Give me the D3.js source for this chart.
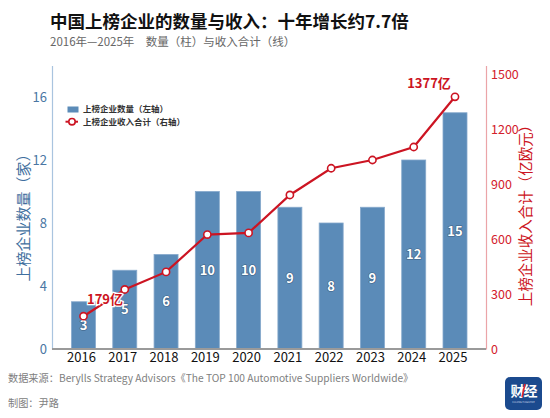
<!DOCTYPE html>
<html>
<head>
<meta charset="utf-8">
<script src="https://cdn.jsdelivr.net/npm/d3@7"></script>
<style>
  body { margin: 0; background: #fff; font-family: "Noto Sans CJK SC", "Noto Sans", sans-serif; }
  svg text { font-family: "Noto Sans CJK SC", "Noto Sans", sans-serif; }
</style>
</head>
<body>
<svg id="chart"></svg>
<script>
let width = 550;
let height = 418;

// data
let years = ['2016', '2017', '2018', '2019', '2020', '2021', '2022', '2023', '2024', '2025'];
let counts = [3, 5, 6, 10, 10, 9, 8, 9, 12, 15];
let revenue = [179, 325, 421, 625, 634, 841, 987, 1032, 1103, 1377];
let leftTicks = [0, 4, 8, 12, 16];
let rightTicks = [0, 300, 600, 900, 1200, 1500];

let blue = '#5b8bb8';
let red = '#cc1422';

let svg = d3.select('#chart')
    .attr('width', width)
    .attr('height', height);

let padding = {'left': 52, 'right': 486, 'top': 65.5, 'bottom': 349};

// title
svg.append('text')
    .attr('x', 50).attr('y', 28)
    .attr('font-size', '17.5px')
    .attr('font-weight', 'bold')
    .attr('fill', '#111')
    .text('中国上榜企业的数量与收入：十年增长约7.7倍');
svg.append('text')
    .attr('x', 50).attr('y', 46)
    .attr('font-size', '11.5px')
    .attr('fill', '#666')
    .text('2016年—2025年　数量（柱）与收入合计（线）');

// scales
let x = d3.scalePoint()
    .domain(years)
    .range([83.5, 455]);
let yL = d3.scaleLinear()
    .domain([0, 18])
    .range([padding.bottom, padding.top]);
let yR = d3.scaleLinear()
    .domain([0, 1548])
    .range([padding.bottom, padding.top]);

let barW = 24;

// bars
svg.append('g')
    .selectAll('rect')
    .data(counts)
    .enter().append('rect')
    .attr('x', (d, i) => x(years[i]) - barW / 2)
    .attr('y', d => yL(d))
    .attr('width', barW)
    .attr('height', d => yL(0) - yL(d))
    .attr('fill', blue)
    .attr('stroke', '#86a9cc')
    .attr('stroke-width', 0.8);

// bar labels
svg.append('g')
    .selectAll('text')
    .data(counts)
    .enter().append('text')
    .attr('x', (d, i) => x(years[i]))
    .attr('y', d => (yL(d) + yL(0)) / 2)
    .attr('dy', '0.36em')
    .attr('text-anchor', 'middle')
    .attr('font-size', '13px')
    .attr('font-weight', 'bold')
    .attr('fill', '#fff')
    .attr('stroke', '#3d5f82')
    .attr('stroke-width', 1.2)
    .attr('paint-order', 'stroke')
    .text(d => d);

// left axis
let axisL = d3.axisLeft(yL).tickValues(leftTicks).tickSize(0).tickPadding(5);
let gL = svg.append('g')
    .attr('transform', `translate(${padding.left}, 0)`)
    .call(axisL);
gL.select('.domain').attr('stroke', '#a9c4df').attr('stroke-width', 1.2);
gL.selectAll('text').attr('fill', '#4a76a3').attr('font-size', '13px')
    .attr('font-family', '"Open Sans", sans-serif');

// right axis
let axisR = d3.axisRight(yR).tickValues(rightTicks).tickSize(0).tickPadding(5)
    .tickFormat(d3.format('d'));
let gR = svg.append('g')
    .attr('transform', `translate(${padding.right}, 0)`)
    .call(axisR);
gR.select('.domain').attr('stroke', '#eba4a8').attr('stroke-width', 1.2);
gR.selectAll('text').attr('fill', '#d3202c').attr('font-size', '12.5px')
    .attr('font-family', '"Open Sans", sans-serif');

// bottom axis
svg.append('line')
    .attr('x1', padding.left).attr('x2', padding.right)
    .attr('y1', padding.bottom).attr('y2', padding.bottom)
    .attr('stroke', '#9a9a9a')
    .attr('stroke-width', 2);
svg.append('g')
    .selectAll('text')
    .data(years)
    .enter().append('text')
    .attr('x', d => x(d) - 2)
    .attr('y', 362)
    .attr('text-anchor', 'middle')
    .attr('font-size', '13px')
    .attr('fill', '#111')
    .attr('font-family', '"Open Sans", sans-serif')
    .text(d => d);

// axis titles
svg.append('text')
    .attr('transform', `translate(24, 214) rotate(-90)`)
    .attr('text-anchor', 'middle')
    .attr('dy', '0.35em')
    .attr('font-size', '15px')
    .attr('fill', '#3f6f9e')
    .text('上榜企业数量（家）');
svg.append('text')
    .attr('transform', `translate(526, 212) rotate(-90)`)
    .attr('text-anchor', 'middle')
    .attr('dy', '0.35em')
    .attr('font-size', '14.5px')
    .attr('fill', '#cc1422')
    .text('上榜企业收入合计（亿欧元）');

// line
let line = d3.line()
    .x((d, i) => x(years[i]))
    .y(d => yR(d));
svg.append('path')
    .datum(revenue)
    .attr('d', line)
    .attr('fill', 'none')
    .attr('stroke', red)
    .attr('stroke-width', 2.2);
svg.append('g')
    .selectAll('circle')
    .data(revenue)
    .enter().append('circle')
    .attr('cx', (d, i) => x(years[i]))
    .attr('cy', d => yR(d))
    .attr('r', 3.6)
    .attr('fill', '#fff')
    .attr('stroke', red)
    .attr('stroke-width', 1.6);

// annotations
svg.append('text')
    .attr('x', 105).attr('y', 299).attr('dy', '0.35em')
    .attr('text-anchor', 'middle')
    .attr('font-size', '13px').attr('font-weight', 'bold')
    .attr('fill', red)
    .attr('stroke', '#fff').attr('stroke-width', 2.5).attr('paint-order', 'stroke')
    .text(revenue[0] + '亿');
svg.append('text')
    .attr('x', 429).attr('y', 83).attr('dy', '0.35em')
    .attr('text-anchor', 'middle')
    .attr('font-size', '13px').attr('font-weight', 'bold')
    .attr('fill', red)
    .attr('stroke', '#fff').attr('stroke-width', 2.5).attr('paint-order', 'stroke')
    .text(revenue[9] + '亿');

// legend
let lg = svg.append('g');
lg.append('rect')
    .attr('x', 67.5).attr('y', 106.5).attr('width', 11).attr('height', 6)
    .attr('fill', blue);
lg.append('text')
    .attr('x', 83).attr('y', 109.5).attr('dy', '0.35em')
    .attr('font-size', '8.5px').attr('font-weight', 'bold').attr('fill', '#333')
    .text('上榜企业数量（左轴）');
lg.append('line')
    .attr('x1', 65.5).attr('x2', 78).attr('y1', 121.7).attr('y2', 121.7)
    .attr('stroke', red).attr('stroke-width', 2);
lg.append('circle')
    .attr('cx', 72).attr('cy', 121.7).attr('r', 3.2)
    .attr('fill', '#fff').attr('stroke', red).attr('stroke-width', 1.6);
lg.append('text')
    .attr('x', 83).attr('y', 121.7).attr('dy', '0.35em')
    .attr('font-size', '8.5px').attr('font-weight', 'bold').attr('fill', '#333')
    .text('上榜企业收入合计（右轴）');

// footer
svg.append('text')
    .attr('x', 8).attr('y', 378).attr('dy', '0.35em')
    .attr('font-size', '10.2px').attr('fill', '#808080')
    .text('数据来源：Berylls Strategy Advisors《The TOP 100 Automotive Suppliers Worldwide》');
svg.append('text')
    .attr('x', 8).attr('y', 403).attr('dy', '0.35em')
    .attr('font-size', '10.2px').attr('fill', '#808080')
    .text('制图：尹路');

// logo
svg.append('rect')
    .attr('x', 505).attr('y', 377).attr('width', 37).attr('height', 33).attr('rx', 5)
    .attr('fill', '#1b4a8e');
svg.append('text')
    .attr('x', 523.5).attr('y', 391).attr('dy', '0.35em')
    .attr('text-anchor', 'middle')
    .attr('font-size', '14px').attr('font-weight', 'bold').attr('fill', '#fff')
    .attr('letter-spacing', '-1px')
    .text('财经');
svg.append('line')
    .attr('x1', 525).attr('x2', 522).attr('y1', 384).attr('y2', 397)
    .attr('stroke', '#e8202a').attr('stroke-width', 1.5);
svg.append('text')
    .attr('x', 523.5).attr('y', 403)
    .attr('text-anchor', 'middle')
    .attr('font-size', '2.5px').attr('fill', '#cfd8e6')
    .text('CAIJING MAGAZINE');
</script>
</body>
</html>
